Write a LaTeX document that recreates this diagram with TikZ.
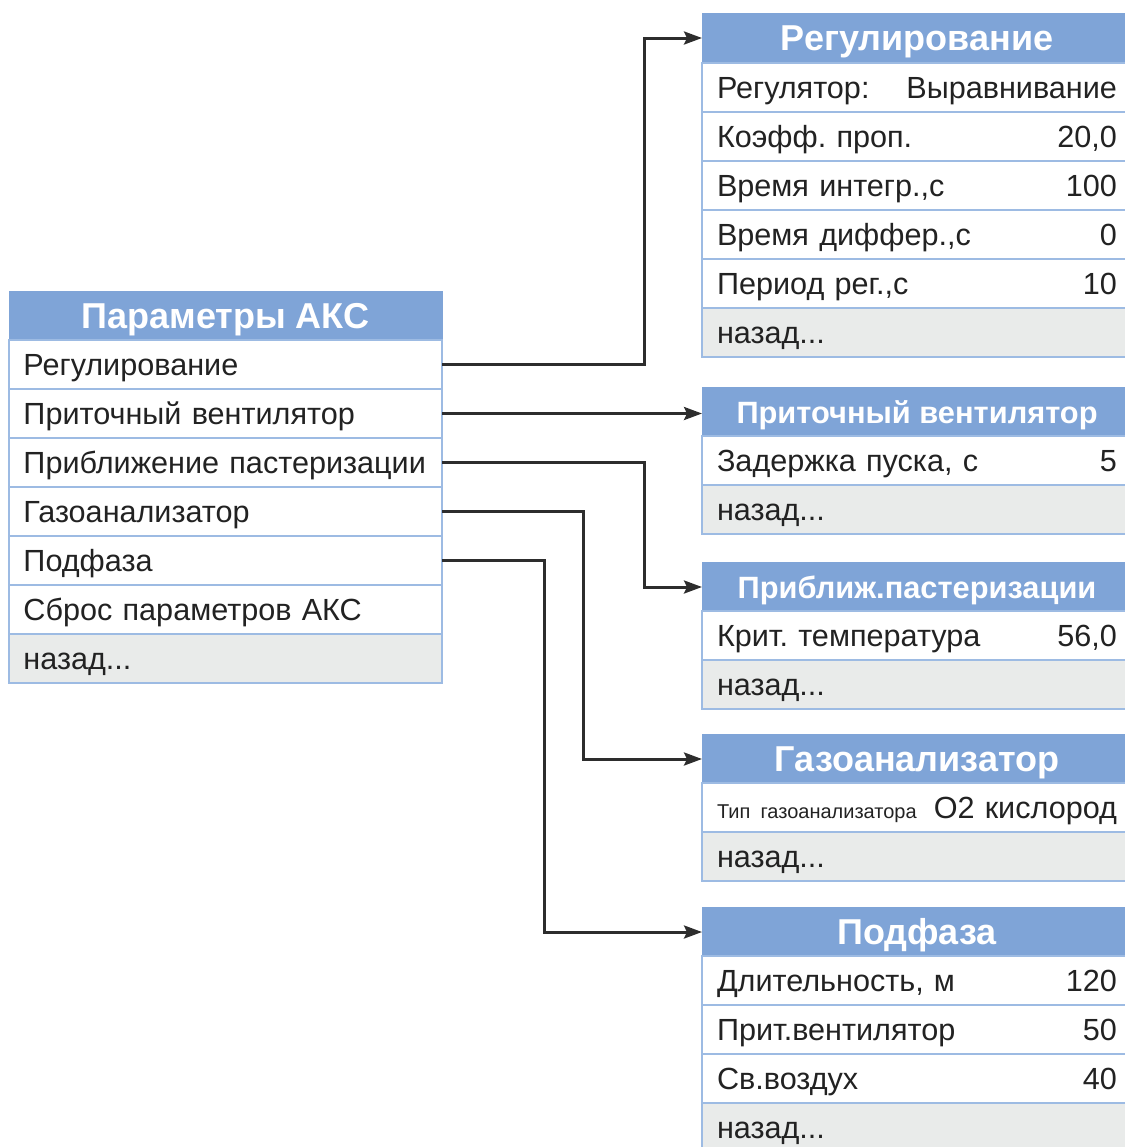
\documentclass[tikz,border=0pt]{standalone}
\usepackage{fontspec}
\setmainfont{Liberation Sans}
\usepackage{xcolor}
\usetikzlibrary{arrows.meta,calc}
\definecolor{hdblue}{HTML}{7FA4D7}
\definecolor{lnblue}{HTML}{9DBBE3}
\definecolor{backgray}{HTML}{E9EBEA}
\definecolor{txtgray}{HTML}{222222}
\definecolor{arrgray}{HTML}{2D2D2D}
\frenchspacing

\begin{document}
\begin{tikzpicture}[x=0.5pt, y=-0.5pt,
  cell/.style={draw=lnblue, line width=0.8pt, fill=white, anchor=north west,
    outer sep=0pt, inner xsep=7.5pt, inner ysep=0pt, minimum height=24.5pt,
    text height=11pt, text depth=0pt,
    text width=#1, align=left, text=txtgray, font=\fontsize{15.3}{18}\selectfont},
  cell/.default=200pt,
  lcell/.style={cell=202pt, inner xsep=7.25pt},
  back/.style={fill=backgray},
  head/.style={draw=hdblue, fill=hdblue, anchor=north west, outer sep=0pt,
    inner sep=0pt, minimum height=25pt, minimum width=#1, text=white,
    text height=12.9pt, text depth=0pt,
    font=\fontsize{18}{21}\selectfont\bfseries},
  head/.default=215pt,
  subhead/.style={head, text height=11pt, font=\fontsize{15.4}{18}\selectfont\bfseries},
  arr/.style={-{Stealth[length=9pt, width=6.5pt, inset=1.5pt]}, line width=1.5pt, draw=arrgray},
]
\useasboundingbox (0,0) rectangle (1125,1147);
% main menu
\node[head=216.5pt] (lhead) at (9,291) {Параметры АКС};
\node[lcell] (lreg) at (9,340) {Регулирование};
\node[lcell] (lpri) at (9,389) {Приточный вентилятор};
\node[lcell] (lpast) at (9,438) {Приближение пастеризации};
\node[lcell] (lgas) at (9,487) {Газоанализатор};
\node[lcell] (lsub) at (9,536) {Подфаза};
\node[lcell] (lreset) at (9,585) {Сброс параметров АКС};
\node[lcell, back] (lback) at (9,634) {назад...};
% submenus
\node[head] (hreg) at (702,13) {Регулирование};
\node[cell] (reg1) at (702,63) {Регулятор:\hfill Выравнивание};
\node[cell] (reg2) at (702,112) {Коэфф. проп.\hfill 20,0};
\node[cell] (reg3) at (702,161) {Время интегр.,с\hfill 100};
\node[cell] (reg4) at (702,210) {Время диффер.,с\hfill 0};
\node[cell] (reg5) at (702,259) {Период рег.,с\hfill 10};
\node[cell, back] (regback) at (702,308) {назад...};

\node[subhead] (hpri) at (702,387) {Приточный вентилятор};
\node[cell] (pri1) at (702,436) {Задержка пуска, с\hfill 5};
\node[cell, back] (priback) at (702,485) {назад...};

\node[subhead] (hpast) at (702,562) {Приближ.пастеризации};
\node[cell] (past1) at (702,611) {Крит. температура\hfill 56,0};
\node[cell, back] (pastback) at (702,660) {назад...};

\node[head] (hgas) at (702,734) {Газоанализатор};
\node[cell] (gas1) at (702,783) {{\fontsize{10}{12}\selectfont Тип газоанализатора}\hfill O2 кислород};
\node[cell, back] (gasback) at (702,832) {назад...};

\node[head] (hsub) at (702,907) {Подфаза};
\node[cell] (sub1) at (702,956) {Длительность, м\hfill 120};
\node[cell] (sub2) at (702,1005) {Прит.вентилятор\hfill 50};
\node[cell] (sub3) at (702,1054) {Св.воздух\hfill 40};
\node[cell, back] (subback) at (702,1103) {назад...};
% links
\draw[arr] (lreg.east) -- ++(202,0) |- (hreg.west);
\draw[arr] (lpri.east) -- (lpri.east -| hpri.west);
\draw[arr] (lpast.east) -- ++(202,0) |- (hpast.west);
\draw[arr] (lgas.east) -- ++(141,0) |- (hgas.west);
\draw[arr] (lsub.east) -- ++(102,0) |- (hsub.west);
\end{tikzpicture}
\end{document}
